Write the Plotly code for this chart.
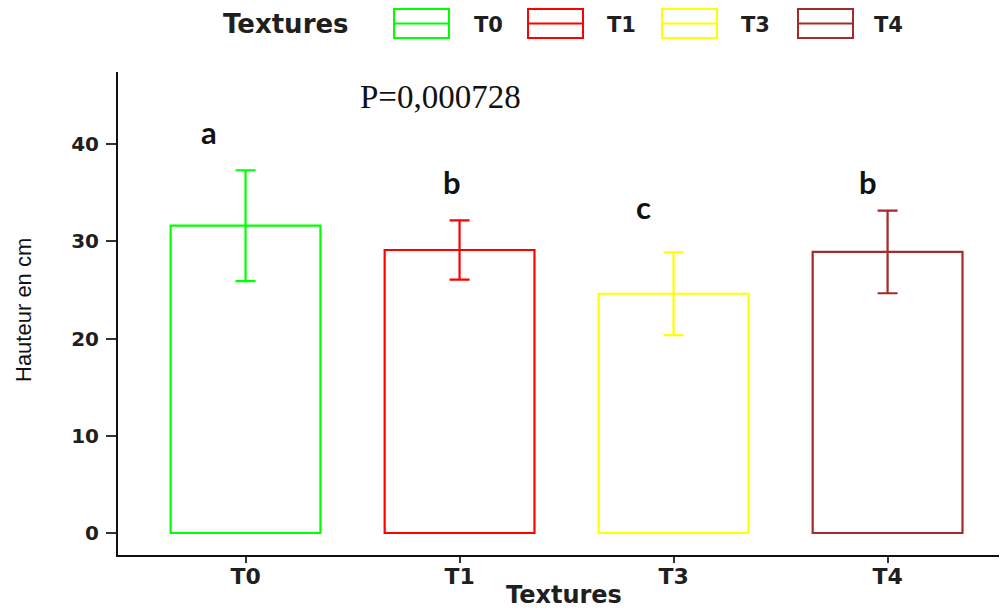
import plotly.graph_objects as go

categories = ["T0", "T1", "T3", "T4"]
means = [31.6, 29.1, 24.6, 28.9]
errors = [5.7, 3.05, 4.25, 4.25]
colors = ["#00FF00", "#FF0000", "#FFFF00", "#A52A2A"]
letters = ["a", "b", "c", "b"]
letter_x = [-0.17, 0.965, 1.86, 2.91]
letter_y = [41.2, 36.1, 33.5, 36.1]
p_label = "P=0,000728"
y_ticks = [0, 10, 20, 30, 40]

# The page adds an 8px body margin, so the figure is drawn 8px smaller and
# placement below is given in page pixels of the final picture.
OFF = 8
PAGE_W, PAGE_H = 1007, 612
L, R, T, B = 118, 1007, 72, 555  # plot area in page pixels


def px(x):
    return (x - L) / (R - L)


def py(y):
    return (B - y) / (B - T)


SANS = "DejaVu Sans, Verdana, sans-serif"
TXT = "#1f1f1f"


def note(x, y, text, font, **kw):
    fig.add_annotation(x=px(x), y=py(y), xref="paper", yref="paper", text=text, showarrow=False,
                       xanchor=kw.pop("xanchor", "center"), yanchor="middle", font=font, **kw)


fig = go.Figure()
for i, c in enumerate(categories):
    fig.add_trace(go.Bar(
        x=[c], y=[means[i]], width=0.7,
        marker=dict(color="rgba(255,255,255,0)", line=dict(color=colors[i], width=2.2)),
        error_y=dict(type="data", array=[errors[i]], color=colors[i], thickness=2.2, width=10),
        showlegend=False, name=c,
    ))

for i, lt in enumerate(letters):
    fig.add_annotation(x=letter_x[i], y=letter_y[i], xref="x", yref="y", text="<b>%s</b>" % lt,
                       showarrow=False, xanchor="center", yanchor="middle",
                       font=dict(family="Lato, Open Sans, sans-serif", size=31, color="#111111"))

note(440, 97, p_label, dict(family="Liberation Serif, Times New Roman, serif", size=33, color="#111111"))

# axis titles as annotations for exact placement
note(23, 310, "Hauteur en cm", dict(family="Liberation Sans Narrow, Arial Narrow, sans-serif", size=22, color="#111111"),
     textangle=-90)
note(564, 595, "Textures", dict(family=SANS, size=24, color=TXT, weight="bold"))

# legend drawn manually
note(221, 24, "Textures", dict(family=SANS, size=26, color=TXT, weight="bold"), xanchor="left")
box_left = [394, 528, 662, 798]
label_left = [472, 605, 739, 872]
for i, c in enumerate(categories):
    x0, x1 = box_left[i], box_left[i] + 55
    fig.add_shape(type="rect", xref="paper", yref="paper", x0=px(x0), x1=px(x1), y0=py(38), y1=py(9),
                  line=dict(color=colors[i], width=2), fillcolor="white", layer="above")
    fig.add_shape(type="line", xref="paper", yref="paper", x0=px(x0), x1=px(x1), y0=py(23.5), y1=py(23.5),
                  line=dict(color=colors[i], width=2), layer="above")
    note(label_left[i], 25, c, dict(family=SANS, size=21, color=TXT, weight="bold"), xanchor="left")

fig.update_layout(
    width=PAGE_W - OFF, height=PAGE_H - OFF,
    margin=dict(l=L - OFF, r=PAGE_W - R, t=T - OFF, b=PAGE_H - B, pad=0),
    plot_bgcolor="white", paper_bgcolor="white",
    xaxis=dict(
        type="category", categoryorder="array", categoryarray=categories,
        range=[-0.596, 3.558], showgrid=False, zeroline=False,
        showline=True, linecolor="#111111", linewidth=2,
        ticks="outside", ticklen=6, tickwidth=1.5, tickcolor="#333333",
        ticklabelstandoff=-5,
        tickfont=dict(family=SANS, size=22, color=TXT, weight="bold"),
    ),
    yaxis=dict(
        range=[-2.26, 47.4], tickvals=y_ticks, showgrid=False, zeroline=False,
        showline=True, linecolor="#111111", linewidth=2,
        ticks="outside", ticklen=10, tickwidth=1.5, tickcolor="#333333",
        ticklabelstandoff=3,
        tickfont=dict(family=SANS, size=20, color=TXT, weight="bold"),
    ),
)

fig.write_html("out.html")
